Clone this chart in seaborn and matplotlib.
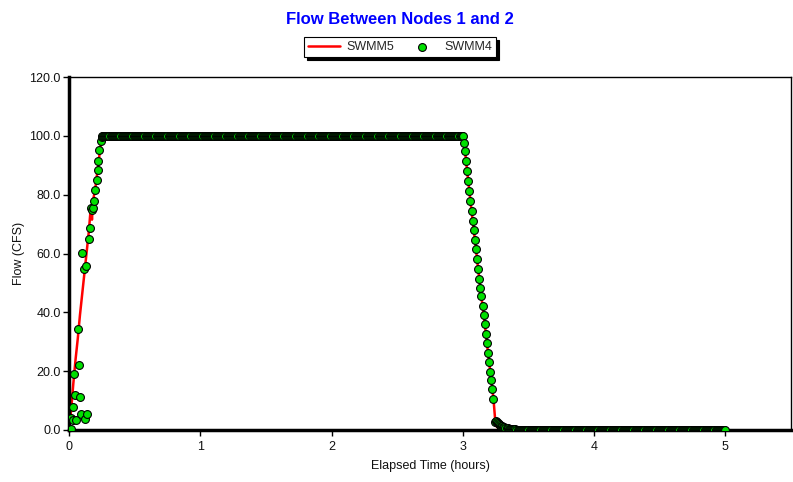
import numpy as np
import pandas as pd
import matplotlib
matplotlib.use("Agg")
import matplotlib.pyplot as plt
import seaborn as sns

# ---------------- data ----------------
# SWMM5 (red line)
swmm5_t = [0.0, 0.0167, 0.0333, 0.05, 0.0667, 0.0833, 0.1, 0.1167, 0.1333, 0.15,
           0.1667, 0.175, 0.1833, 0.2, 0.2167, 0.2333, 0.25,
           3.0, 3.0167, 3.0333, 3.05, 3.0667, 3.0833, 3.1, 3.1167, 3.1333, 3.15,
           3.1667, 3.1833, 3.2, 3.2167, 3.2333, 3.25, 3.2667, 3.3, 3.35, 3.5, 5.0]
swmm5_q = [0.0, 7.0, 16.0, 24.0, 31.0, 39.0, 46.0, 53.0, 60.0, 67.0,
           76.0, 71.5, 78.0, 82.0, 88.0, 94.0, 100.0,
           100.0, 94.9, 87.9, 81.1, 74.3, 68.0, 61.5, 54.7, 48.4, 42.1,
           36.2, 29.6, 23.2, 17.0, 10.7, 1.5, 0.8, 0.3, 0.1, 0.0, 0.0]

# SWMM4 (green points) - rising limb, irregular
swmm4_rise_t = [0.013, 0.018, 0.030, 0.031, 0.038, 0.045, 0.051, 0.068, 0.076,
                0.084, 0.091, 0.102, 0.112, 0.119, 0.132, 0.137, 0.150, 0.157,
                0.170, 0.175, 0.182, 0.193, 0.200, 0.210, 0.220, 0.223, 0.231,
                0.241, 0.248]
swmm4_rise_q = [0.2, 4.2, 3.4, 7.9, 19.2, 11.9, 3.4, 34.2, 22.0,
                11.1, 5.4, 60.1, 54.8, 3.6, 55.9, 5.6, 65.0, 68.7,
                75.4, 74.8, 75.5, 78.0, 81.6, 85.0, 88.4, 91.5, 95.2,
                98.1, 99.7]

# SWMM4 plateau (30-second output step)
swmm4_plateau_start = 0.25
swmm4_plateau_end = 3.0
swmm4_plateau_q = 100.0

# SWMM4 falling limb, 30-second steps starting at 3.0 h
swmm4_fall_start = 3.00833
swmm4_fall_q = [97.7, 94.9, 91.5, 87.9, 84.5, 81.1, 77.7, 74.3, 71.2, 68.0,
                64.7, 61.5, 58.2, 54.7, 51.4, 48.4, 45.4, 42.1, 39.0, 36.2,
                32.8, 29.6, 26.2, 23.2, 19.8, 17.0, 13.8, 10.7, 2.8, 3.0,
                2.6, 2.3, 2.0, 1.7, 1.5, 1.3, 1.1, 0.95, 0.8, 0.7,
                0.6, 0.5, 0.42, 0.35, 0.3, 0.25, 0.2, 0.17, 0.14, 0.12,
                0.1, 0.08, 0.06, 0.05, 0.04, 0.03, 0.02, 0.01, 0.0, 0.0]

# SWMM4 tail at zero until 5 h
swmm4_tail_end = 5.0
swmm4_tail_q = 0.0

step = 1.0 / 120.0  # 30 seconds in hours

x_ticks = [0, 1, 2, 3, 4, 5]
y_ticks = [0, 20, 40, 60, 80, 100, 120]

# ---------------- build tables ----------------
plat_t = np.arange(swmm4_plateau_start, swmm4_plateau_end + 1e-9, step)
fall_t = swmm4_fall_start + step * np.arange(len(swmm4_fall_q))
tail_t = np.arange(fall_t[-1] + step, swmm4_tail_end + 1e-9, step)

s4_t = np.concatenate([swmm4_rise_t, plat_t, fall_t, tail_t])
s4_q = np.concatenate([swmm4_rise_q, np.full(len(plat_t), swmm4_plateau_q),
                       swmm4_fall_q, np.full(len(tail_t), swmm4_tail_q)])
df4 = pd.DataFrame({"t": s4_t, "q": s4_q})
df5 = pd.DataFrame({"t": swmm5_t, "q": swmm5_q})

# ---------------- plot ----------------
sns.set_style("white")
plt.rcParams["font.family"] = ["Liberation Sans", "DejaVu Sans"]

fig = plt.figure(figsize=(7.93, 4.82), dpi=100)
ax = fig.add_axes([69 / 793, 1 - 430 / 482, (791 - 69) / 793, (430 - 77) / 482])

sns.lineplot(data=df5, x="t", y="q", ax=ax, color="#FF0000", linewidth=1.8,
             label="SWMM5", zorder=2, legend=False)
sns.scatterplot(data=df4, x="t", y="q", ax=ax, color="#00E000", edgecolor="black",
                linewidth=0.8, s=32, label="SWMM4", zorder=3, legend=False)

ax.set_xlim(0, 5.5)
ax.set_ylim(0, 120)
ax.set_xticks(x_ticks)
ax.set_xticklabels([str(v) for v in x_ticks])
ax.set_yticks(y_ticks)
ax.set_yticklabels([f"{v:.1f}" for v in y_ticks])
ax.tick_params(axis="x", direction="out", length=4, width=1, color="black",
               labelsize=9, labelcolor="#111111", pad=4, bottom=True)
ax.tick_params(axis="y", direction="out", length=4, width=1, color="black",
               labelsize=9, labelcolor="#111111", pad=2, left=True)

for side in ["top", "right"]:
    ax.spines[side].set_linewidth(1.0)
    ax.spines[side].set_color("black")
for side in ["left", "bottom"]:
    ax.spines[side].set_linewidth(2.5)
    ax.spines[side].set_color("black")

ax.set_xlabel("Elapsed Time (hours)", fontsize=9, color="#111111", labelpad=5)
ax.set_ylabel("Flow (CFS)", fontsize=9, color="#111111", labelpad=3)

fig.text(400 / 793, 1 - 19 / 482, "Flow Between Nodes 1 and 2", ha="center",
         va="center", fontsize=12, fontweight="bold", color="#0000FF")

handles, labels = ax.get_legend_handles_labels()
leg = fig.legend(handles, labels, loc="center", bbox_to_anchor=(400 / 793, 1 - 47 / 482),
                 ncol=2, frameon=True, fancybox=False, edgecolor="black",
                 shadow={"color": "black", "alpha": 1.0}, fontsize=9,
                 handlelength=2.6, columnspacing=0.9, borderpad=0.3,
                 handletextpad=0.5, borderaxespad=0.0)
leg.get_frame().set_linewidth(0.8)

fig.savefig("out.png", dpi=100)
